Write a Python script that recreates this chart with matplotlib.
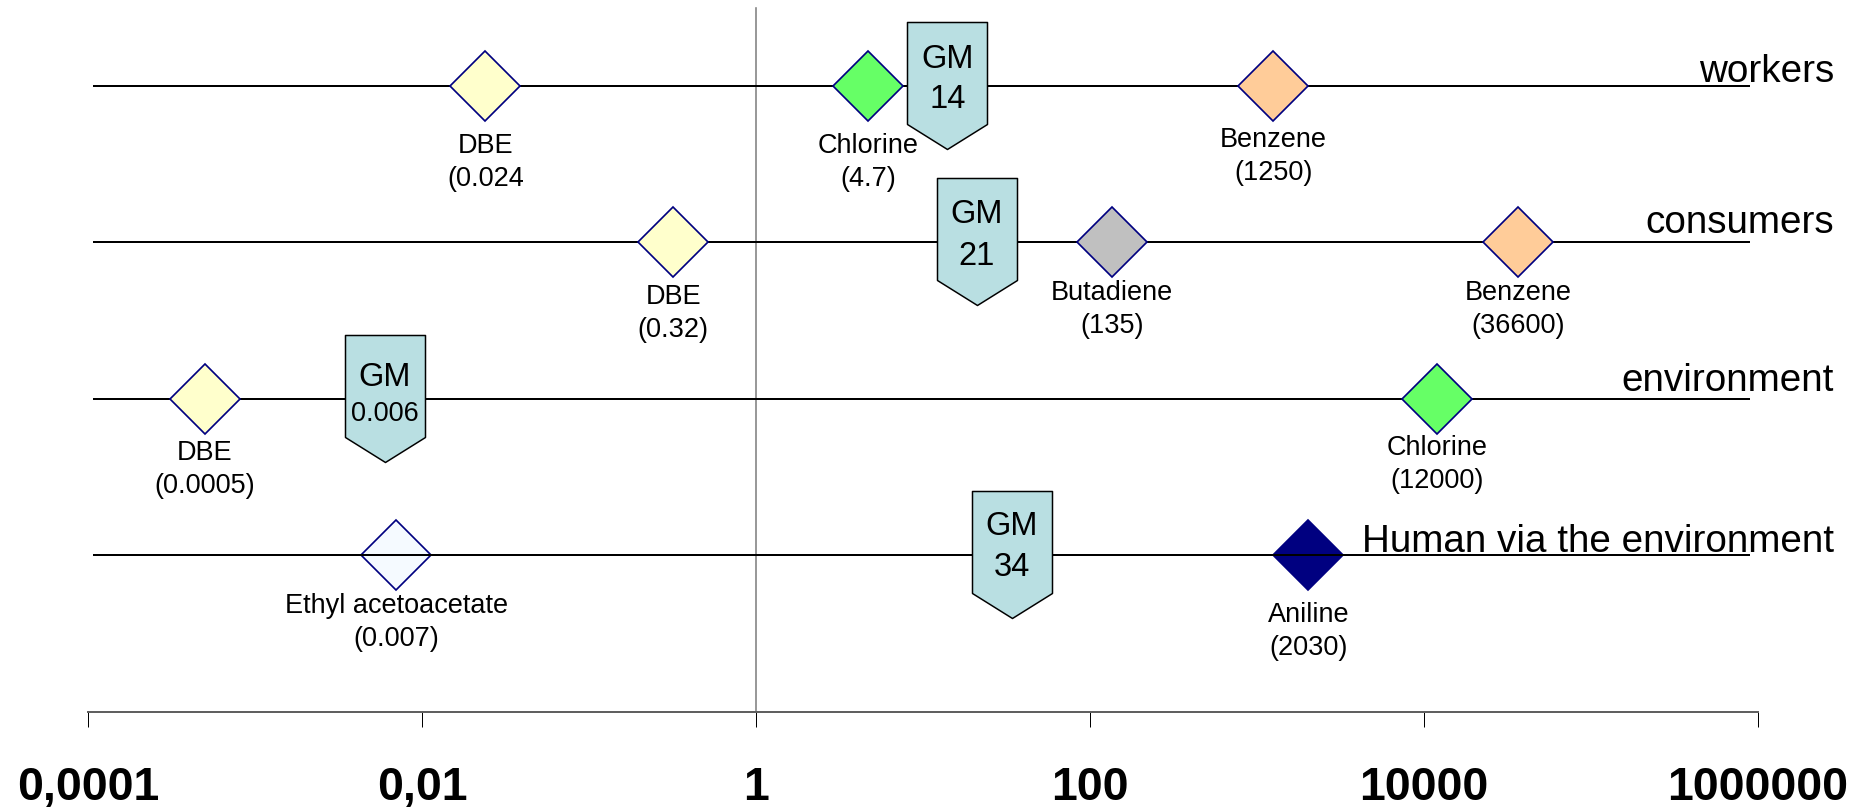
import matplotlib
matplotlib.use("Agg")
import matplotlib.pyplot as plt
from matplotlib.path import Path
from matplotlib.markers import MarkerStyle

plt.rcParams['font.family'] = ['Liberation Sans', 'DejaVu Sans']

# Exposure groups, one horizontal line each (top to bottom)
groups = ['workers', 'consumers', 'environment', 'Human via the environment']

# Substances placed on the lines
substances = ['DBE', 'Chlorine', 'Benzene',
              'DBE', 'Butadiene', 'Benzene',
              'DBE', 'Chlorine',
              'Ethyl acetoacetate', 'Aniline']
substance_group = [0, 0, 0, 1, 1, 1, 2, 2, 3, 3]
substance_values = [0.024, 4.7, 1250, 0.32, 135, 36600, 0.0005, 12000, 0.007, 2030]
value_labels = ['(0.024', '(4.7)', '(1250)', '(0.32)', '(135)', '(36600)',
                '(0.0005)', '(12000)', '(0.007)', '(2030)']

# Geometric mean of each group
gm_values = [14, 21, 0.006, 34]
gm_labels = ['14', '21', '0.006', '34']

# Bottom scale
tick_values = [1e-4, 1e-2, 1, 1e2, 1e4, 1e6]
tick_labels = ['0,0001', '0,01', '1', '100', '10000', '1000000']

# Fill colour per substance
fill_colors = {
    'DBE': '#FFFFCC',
    'Chlorine': '#66FF66',
    'Benzene': '#FFCC99',
    'Butadiene': '#C0C0C0',
    'Ethyl acetoacetate': '#F5FAFF',
    'Aniline': '#000080',
}
EDGE = '#000080'
GM_FILL = '#B9DFE2'

W, H, DPI = 1866, 808, 100
PX = 72.0 / DPI  # points per pixel

fig = plt.figure(figsize=(W / DPI, H / DPI), dpi=DPI)
ax_left, ax_right, ax_top, ax_bottom = 88, 1758, 0, 712
ax = fig.add_axes([ax_left / W, (H - ax_bottom) / H,
                   (ax_right - ax_left) / W, (ax_bottom - ax_top) / H])

ax.set_xscale('log')
ax.set_xlim(1e-4, 1e6)
# row 0 sits 86 px from the top, rows 156.33 px apart
row_px0, row_step = 86, 156.33
ax.set_ylim((ax_bottom - row_px0) / row_step, (ax_top - row_px0) / row_step)

# horizontal group lines
line_start, line_end = 1.07e-4, 8.96e5
for gi in range(len(groups)):
    z = 4 if gi == 3 else 2
    ax.hlines(gi, line_start, line_end, color='black', lw=2 * PX, zorder=z)

# vertical reference at 1
ax.axvline(1, ymin=0, ymax=(ax_bottom - 8) / (ax_bottom - ax_top),
           color='#808080', lw=1.6 * PX, zorder=1)

# substance diamonds and their labels
name_offsets = [67, 67, 61, 62, 58, 58, 61, 56, 58, 67]
for name, gi, val, vlab, off in zip(substances, substance_group, substance_values,
                                     value_labels, name_offsets):
    ax.plot(val, gi, marker='D', ms=35.5, mfc=fill_colors[name], mec=EDGE,
            mew=1.7 * PX, ls='none', zorder=3)
    ax.annotate(name, xy=(val, gi), xytext=(0, -off * PX), textcoords='offset points',
                ha='center', va='baseline', fontsize=19.5, zorder=6)
    ax.annotate(vlab, xy=(val, gi), xytext=(0, -(off + 33) * PX),
                textcoords='offset points', ha='center', va='baseline',
                fontsize=19.5, zorder=6)

# GM pentagon markers
gm_path = Path([(-40, 64), (40, 64), (40, -38), (0, -63), (-40, -38), (-40, 64)],
               [Path.MOVETO, Path.LINETO, Path.LINETO, Path.LINETO, Path.LINETO,
                Path.CLOSEPOLY])
gm_marker = MarkerStyle(gm_path, joinstyle='miter')
gm_title_offsets = [18, 19, 13, 20]
gm_value_offsets = [22, 23, 22, 21]
gm_value_sizes = [23.5, 23.5, 19.5, 23.5]
for gi, (val, lab) in enumerate(zip(gm_values, gm_labels)):
    ax.plot(val, gi, marker=gm_marker, ms=2 * 64 * PX, mfc=GM_FILL, mec='black',
            mew=1.5 * PX, ls='none', zorder=5)
    ax.annotate('GM', xy=(val, gi), xytext=(0, gm_title_offsets[gi] * PX),
                textcoords='offset points', ha='center', va='baseline',
                fontsize=23.5, zorder=6)
    ax.annotate(lab, xy=(val, gi), xytext=(0, -gm_value_offsets[gi] * PX),
                textcoords='offset points', ha='center', va='baseline',
                fontsize=gm_value_sizes[gi], zorder=6)

# group names at the right end of each line
group_offsets = [4, 9, 8, 3]
for gi, (g, off) in enumerate(zip(groups, group_offsets)):
    ax.annotate(g, xy=((1834 - ax_left) / (ax_right - ax_left), gi),
                xycoords=ax.get_yaxis_transform(), xytext=(0, off * PX),
                textcoords='offset points', ha='right', va='baseline',
                fontsize=27.8, zorder=6)

# axis styling
ax.set_xticks(tick_values, labels=tick_labels)
ax.xaxis.set_minor_locator(matplotlib.ticker.NullLocator())
ax.tick_params(axis='x', direction='out', length=15 * PX, width=1 * PX,
               color='black', pad=39 * PX, labelsize=33.5)
for t in ax.get_xticklabels():
    t.set_fontweight('bold')
ax.set_yticks([])
for s in ('top', 'left', 'right'):
    ax.spines[s].set_visible(False)
ax.spines['bottom'].set_color('#606060')
ax.spines['bottom'].set_linewidth(2 * PX)
ax.patch.set_visible(False)

fig.savefig('out.png', dpi=DPI)
